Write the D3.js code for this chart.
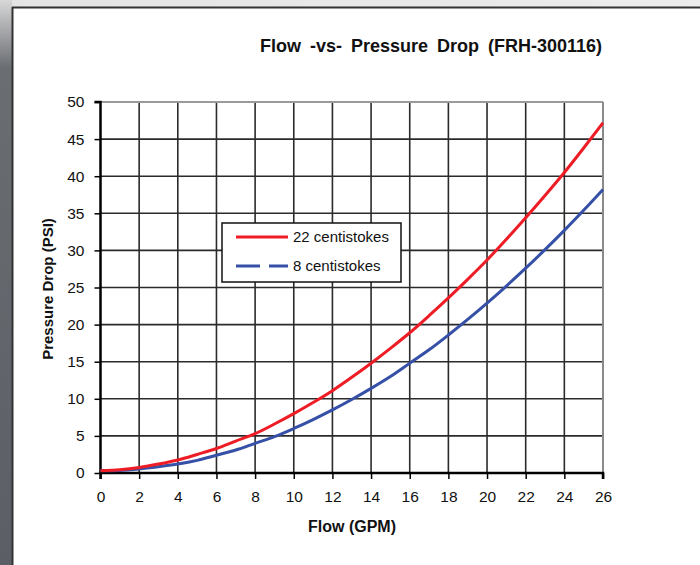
<!DOCTYPE html>
<html><head><meta charset="utf-8">
<script src="https://cdn.jsdelivr.net/npm/d3@7"></script>
<style>
html,body{margin:0;padding:0;background:#fff;}
svg{display:block;font-family:"Liberation Sans",Arial,sans-serif;}
</style></head>
<body>
<svg id="chart" width="700" height="565"></svg>
<script>
const flowGPM = [0,1,2,3,4,5,6,7,8,9,10,11,12,13,14,15,16,17,18,19,20,21,22,23,24,25,26];
const drop22cSt = [0.3,0.45,0.75,1.2,1.75,2.5,3.3,4.3,5.3,6.6,8.0,9.5,11.1,12.9,14.8,16.8,18.9,21.2,23.6,26.1,28.7,31.5,34.4,37.4,40.5,43.8,47.2];
const drop8cSt = [0.3,0.35,0.55,0.85,1.2,1.7,2.4,3.1,4.0,4.9,6.0,7.2,8.5,9.9,11.4,13.0,14.8,16.6,18.6,20.7,22.9,25.2,27.6,30.1,32.7,35.4,38.2];
const seriesNames = ["22 centistokes","8 centistokes"];
const xTicks = [0,2,4,6,8,10,12,14,16,18,20,22,24,26];
const yTicks = [0,5,10,15,20,25,30,35,40,45,50];
const titleText = "Flow -vs- Pressure Drop (FRH-300116)";
const xTitle = "Flow (GPM)";
const yTitle = "Pressure Drop (PSI)";

const svg = d3.select("#chart");
const defs = svg.append("defs");
const gl = defs.append("linearGradient").attr("id","leftg").attr("x1",0).attr("y1",0).attr("x2",0).attr("y2",1);
gl.append("stop").attr("offset","0%").attr("stop-color","#d8d8d8");
gl.append("stop").attr("offset","12%").attr("stop-color","#6a6d72");
gl.append("stop").attr("offset","100%").attr("stop-color","#5b5f65");
const gt = defs.append("linearGradient").attr("id","topg").attr("x1",0).attr("y1",0).attr("x2",1).attr("y2",0);
gt.append("stop").attr("offset","0%").attr("stop-color","#e4e4e4");
gt.append("stop").attr("offset","100%").attr("stop-color","#ececec");

// frame
svg.append("rect").attr("x",0).attr("y",0).attr("width",700).attr("height",8).attr("fill","url(#topg)");
svg.append("rect").attr("x",0).attr("y",0).attr("width",12).attr("height",565).attr("fill","url(#leftg)");
svg.append("rect").attr("x",12).attr("y",8).attr("width",688).attr("height",557).attr("fill","#fff");
svg.append("line").attr("x1",12).attr("x2",700).attr("y1",7.5).attr("y2",7.5).attr("stroke","#333").attr("stroke-width",2);
svg.append("line").attr("x1",12.5).attr("x2",12.5).attr("y1",7).attr("y2",565).attr("stroke","#333").attr("stroke-width",2);

const x = d3.scaleLinear().domain([0,26]).range([100.5,603]);
const y = d3.scaleLinear().domain([0,50]).range([473,102]);

const grid = svg.append("g");
grid.selectAll(".vg").data(xTicks.filter(d=>d>0&&d<26)).enter().append("line")
  .attr("x1",d=>x(d)).attr("x2",d=>x(d)).attr("y1",y(50)).attr("y2",y(0))
  .attr("stroke","#2b2b2b").attr("stroke-width",1.6);
grid.selectAll(".hg").data(yTicks.filter(d=>d>0&&d<50)).enter().append("line")
  .attr("x1",x(0)).attr("x2",x(26)).attr("y1",d=>y(d)).attr("y2",d=>y(d))
  .attr("stroke","#2b2b2b").attr("stroke-width",1.6);
// top/right border
svg.append("line").attr("x1",x(0)).attr("x2",x(26)).attr("y1",y(50)).attr("y2",y(50)).attr("stroke","#9a9a9a").attr("stroke-width",2);
svg.append("line").attr("x1",x(26)).attr("x2",x(26)).attr("y1",y(50)).attr("y2",y(0)).attr("stroke","#8a8a8a").attr("stroke-width",2);

// axes
const xAxis = d3.axisBottom(x).tickValues(xTicks).tickSize(6).tickPadding(12).tickFormat(d3.format("d"));
const yAxis = d3.axisLeft(y).tickValues(yTicks).tickSize(6).tickPadding(10).tickFormat(d3.format("d"));
const gx = svg.append("g").attr("transform",`translate(0,${y(0)})`).call(xAxis);
const gy = svg.append("g").attr("transform",`translate(${x(0)},0)`).call(yAxis);
[gx,gy].forEach(g=>{
  g.select(".domain").attr("stroke","#000").attr("stroke-width",2.5);
  g.selectAll(".tick line").attr("stroke","#000").attr("stroke-width",1.5);
  g.selectAll(".tick text").attr("fill","#111").style("font-size","15.5px").style("font-family","Liberation Sans, Arial, sans-serif");
});
gy.select(".domain").attr("d",`M-6,${y(50)}H0V${y(0)}`);
gx.select(".domain").attr("d",`M${x(0)},6V0H${x(26)}V6`);

// lines
const pts22 = flowGPM.map((f,i)=>[f,drop22cSt[i]]);
const pts8 = flowGPM.map((f,i)=>[f,drop8cSt[i]]);
const line = d3.line().x(d=>x(d[0])).y(d=>y(d[1])).curve(d3.curveMonotoneX);
svg.append("path").datum(pts8).attr("d",line).attr("fill","none").attr("stroke","#3550a6").attr("stroke-width",3);
svg.append("path").datum(pts22).attr("d",line).attr("fill","none").attr("stroke","#ee1c25").attr("stroke-width",3);

// legend
const lg = svg.append("g");
lg.append("rect").attr("x",222).attr("y",223).attr("width",179).attr("height",59).attr("fill","#fff").attr("stroke","#111").attr("stroke-width",1.5);
lg.append("line").attr("x1",236).attr("x2",288).attr("y1",237).attr("y2",237).attr("stroke","#ee1c25").attr("stroke-width",3);
lg.append("line").attr("x1",236).attr("x2",288).attr("y1",266).attr("y2",266).attr("stroke","#3550a6").attr("stroke-width",3).attr("stroke-dasharray","24,9");
lg.append("text").attr("x",293).attr("y",242).text(seriesNames[0]).style("font-size","15px").attr("fill","#111");
lg.append("text").attr("x",293).attr("y",271).text(seriesNames[1]).style("font-size","15px").attr("fill","#111");

// titles
svg.append("text").attr("x",431).attr("y",52).attr("text-anchor","middle").text(titleText)
  .style("font-size","18px").style("font-weight","bold").style("word-spacing","4px").attr("fill","#111");
svg.append("text").attr("x",352).attr("y",532).attr("text-anchor","middle").text(xTitle)
  .style("font-size","16px").style("font-weight","bold").attr("fill","#111");
svg.append("text").attr("transform","translate(53,289) rotate(-90)").attr("text-anchor","middle").text(yTitle)
  .style("font-size","15px").style("font-weight","bold").attr("fill","#111");
</script>
</body></html>
